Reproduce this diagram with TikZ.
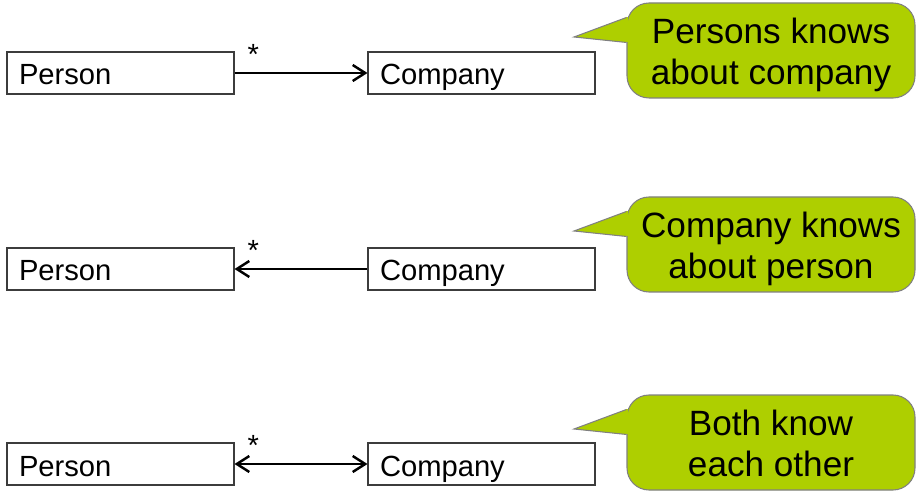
\documentclass[tikz,border=0pt]{standalone}
\usepackage{fontspec}
\setmainfont{Liberation Sans}
\usetikzlibrary{arrows.meta}
\definecolor{noteGreen}{RGB}{174,207,0}
\definecolor{noteGray}{RGB}{128,128,128}
\definecolor{boxGray}{RGB}{60,60,60}

\begin{document}
\begin{tikzpicture}[
    cls/.style={rectangle, draw=boxGray, line width=0.6pt, minimum width=4.54cm, minimum height=0.84cm, inner xsep=0.24cm, inner ysep=0pt, text width=4.06cm, align=left, text height=0.6cm, text depth=0.12cm, font=\fontsize{16.6pt}{19pt}\selectfont},
    assoc/.style={line width=0.6pt, >={Straight Barb[length=0.25cm, width=0.32cm, line width=1.4pt]}},
    mult/.style={inner sep=0pt, anchor=base west, xshift=0.25cm, yshift=0.17cm, font=\fontsize{16.6pt}{19pt}\selectfont},
    bubble/.style={rectangle, rounded corners=0.44cm, fill=noteGreen, draw=noteGray, line width=0.6pt, minimum width=5.76cm, minimum height=1.9cm},
    pointer/.style={draw=noteGray, line width=0.6pt},
    notetext/.style={align=center, inner sep=0pt, font=\fontsize{20pt}{22.8pt}\selectfont},
]
\useasboundingbox (0,0) rectangle (18.4,-10);

% class boxes
\node[cls] (person1) at (2.41,-1.46) {Person};
\node[cls] (company1) at (9.63,-1.46) {Company};
\node[cls] (person2) at (2.41,-5.38) {Person};
\node[cls] (company2) at (9.63,-5.38) {Company};
\node[cls] (person3) at (2.41,-9.28) {Person};
\node[cls] (company3) at (9.63,-9.28) {Company};

% associations
\draw[assoc, ->] (person1) -- node[mult, at start]{*} (company1);
\draw[assoc, <-] (person2) -- node[mult, at start]{*} (company2);
\draw[assoc, <->] (person3) -- node[mult, at start]{*} (company3);

% callouts
\node[bubble] (bubble1) at (15.42,-1.01) {};
\node[bubble] (bubble2) at (15.42,-4.89) {};
\node[bubble] (bubble3) at (15.42,-8.85) {};
\coordinate (tip1) at (11.48,-0.74);
\coordinate (tip2) at (11.48,-4.62);
\coordinate (tip3) at (11.48,-8.58);
\coordinate (tip1a) at ([yshift=-0.30cm]bubble1.north west);
\coordinate (tip1b) at ([yshift=-0.80cm]bubble1.north west);
\coordinate (tip2a) at ([yshift=-0.30cm]bubble2.north west);
\coordinate (tip2b) at ([yshift=-0.80cm]bubble2.north west);
\coordinate (tip3a) at ([yshift=-0.30cm]bubble3.north west);
\coordinate (tip3b) at ([yshift=-0.80cm]bubble3.north west);

\fill[noteGreen] (tip1a) -- (tip1) -- (tip1b) -- cycle;
\fill[noteGreen] ([xshift=-0.5pt]tip1a) rectangle ([xshift=0.8pt]tip1b);
\draw[pointer] (tip1a) -- (tip1) -- (tip1b);
\fill[noteGreen] (tip2a) -- (tip2) -- (tip2b) -- cycle;
\fill[noteGreen] ([xshift=-0.5pt]tip2a) rectangle ([xshift=0.8pt]tip2b);
\draw[pointer] (tip2a) -- (tip2) -- (tip2b);
\fill[noteGreen] (tip3a) -- (tip3) -- (tip3b) -- cycle;
\fill[noteGreen] ([xshift=-0.5pt]tip3a) rectangle ([xshift=0.8pt]tip3b);
\draw[pointer] (tip3a) -- (tip3) -- (tip3b);

\node[notetext] (note1) at (15.42,-1.12) {Persons knows\strut\\about company\strut};
\node[notetext] (note2) at (15.42,-5.00) {Company knows\strut\\about person\strut};
\node[notetext] (note3) at (15.42,-8.96) {Both know\strut\\each other\strut};
\end{tikzpicture}
\end{document}
